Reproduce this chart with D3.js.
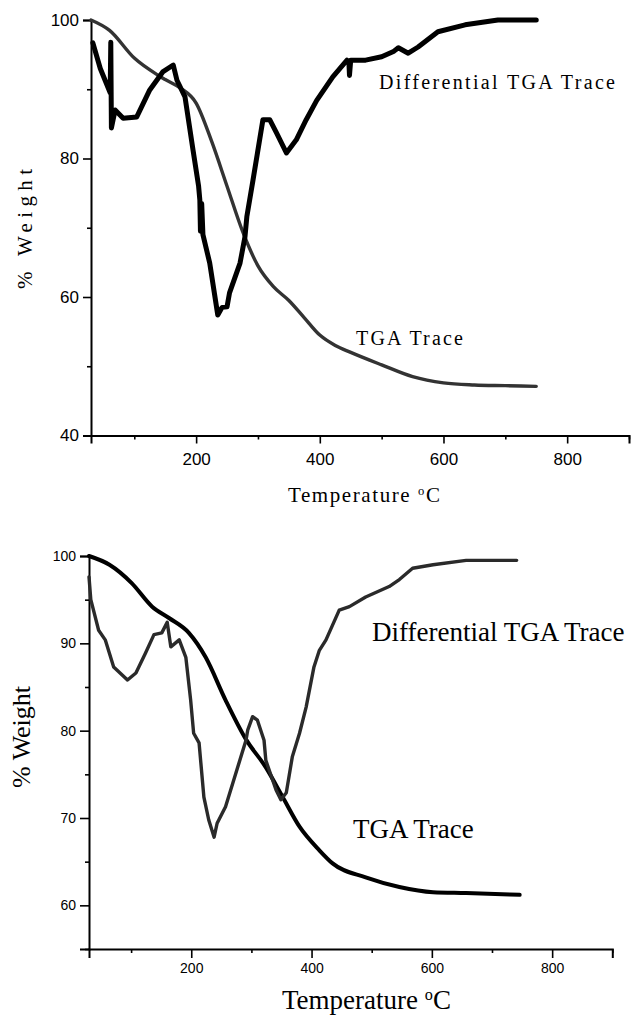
<!DOCTYPE html>
<html>
<head>
<meta charset="utf-8">
<script src="https://cdn.jsdelivr.net/npm/d3@7"></script>
<style>
  html, body { margin: 0; padding: 0; background: #fff; }
  svg { display: block; }
</style>
</head>
<body>
<svg id="chart" width="636" height="1018"></svg>
<script>
// top panel, TGA trace (temperature °C, % weight)
const topTgaTemp = [30, 60, 100, 137, 150, 174, 200, 225, 250, 275, 300, 325, 350, 375, 400, 425, 450, 500, 550, 600, 650, 700, 750];
const topTgaWeight = [100, 98.5, 94.5, 92.1, 91.4, 90.2, 88, 82.5, 76, 69.5, 64.5, 61.5, 59.5, 57, 54.5, 53, 52, 50.2, 48.5, 47.6, 47.3, 47.2, 47.1];

// top panel, differential TGA trace
const topDtgTemp = [33, 45, 61, 62, 63, 69, 82, 104, 125, 146, 163, 169, 182, 195, 204, 206, 207, 209, 211, 222, 235, 242, 250, 254, 271, 279, 282, 292, 308, 319, 330, 346, 362, 378, 395, 421, 444, 447, 448, 450, 474, 500, 520, 527, 543, 559, 591, 635, 688, 750];
const topDtgWeight = [96.7, 93, 89.5, 96.8, 84.4, 87, 85.8, 86, 89.9, 92.5, 93.5, 91.3, 88.9, 81.2, 76, 74, 69.5, 73.5, 69, 64.9, 57.4, 58.5, 58.6, 60.6, 64.9, 68.7, 71.6, 76.9, 85.6, 85.6, 83.7, 80.8, 82.7, 85.6, 88.4, 91.8, 94.2, 94, 92, 94.2, 94.2, 94.7, 95.5, 96, 95.2, 96.1, 98.3, 99.3, 100, 100];

// bottom panel, TGA trace
const botTgaTemp = [30, 64, 101, 135, 163, 196, 224, 257, 291, 324, 352, 380, 413, 435, 490, 546, 602, 657, 746];
const botTgaWeight = [100, 99, 96.9, 94.2, 92.9, 91.2, 88.4, 83.5, 79, 75.8, 72.4, 69, 66.3, 64.8, 63.2, 62.1, 61.5, 61.4, 61.2];

// bottom panel, differential TGA trace
const botDtgTemp = [30, 33, 46, 57, 71, 94, 108, 124, 138, 151, 160, 166, 180, 191, 199, 204, 213, 221, 229, 238, 243, 257, 274, 291, 294, 302, 310, 321, 324, 341, 349, 358, 368, 380, 391, 404, 413, 424, 446, 463, 490, 529, 546, 568, 602, 657, 702, 741];
const botDtgWeight = [97.6, 95, 91.5, 90.4, 87.3, 85.8, 86.6, 88.9, 91, 91.2, 92.4, 89.6, 90.4, 88.4, 83.5, 79.7, 78.6, 72.4, 69.8, 67.8, 69.4, 71.3, 75.1, 78.9, 80.1, 81.6, 81.2, 78.9, 76.6, 73.2, 72.1, 72.9, 77, 79.7, 82.7, 87.3, 89.2, 90.4, 93.8, 94.2, 95.3, 96.5, 97.3, 98.6, 99, 99.5, 99.5, 99.5];

// ticks
const xMajorTicks = [200, 400, 600, 800];
const xMinorTicks = [100, 300, 500, 700, 900];
const topYMajor = [40, 60, 80, 100];
const topYMinor = [50, 70, 90];
const botYMajor = [60, 70, 80, 90, 100];
const botYMinor = [55, 65, 75, 85, 95];

const svg = d3.select("#chart");
const serif = "'Liberation Serif', 'Times New Roman', serif";
const sans = "'Liberation Sans', Arial, sans-serif";

const zip = (xs, ys) => xs.map((x, i) => ({ t: x, w: ys[i] }));

function drawPanel(cfg) {
    const x = d3.scaleLinear().domain([30, 900]).range(cfg.xRange);
    const y = d3.scaleLinear().domain(cfg.yDomain).range(cfg.yRange);
    const g = svg.append("g");

    // y axis: major then minor
    g.append("g")
        .attr("transform", `translate(${cfg.xRange[0]},0)`)
        .call(d3.axisLeft(y).tickValues(cfg.yMajor).tickSize(cfg.tickLen).tickPadding(4).tickFormat(d3.format("d")));
    g.append("g")
        .attr("transform", `translate(${cfg.xRange[0]},0)`)
        .call(d3.axisLeft(y).tickValues(cfg.yMinor).tickSize(4).tickFormat(""))
        .call(a => a.select(".domain").remove());

    g.append("g")
        .attr("transform", `translate(0,${cfg.yRange[0]})`)
        .call(d3.axisBottom(x).tickValues(xMajorTicks).tickSize(cfg.tickLen).tickPadding(cfg.xPad).tickFormat(d3.format("d")));
    g.append("g")
        .attr("transform", `translate(0,${cfg.yRange[0]})`)
        .call(d3.axisBottom(x).tickValues(xMinorTicks).tickSize(4).tickFormat(""))
        .call(a => a.select(".domain").remove());

    g.selectAll(".domain").attr("stroke", "#000").attr("stroke-width", 2);
    g.selectAll(".tick line").attr("stroke", "#000").attr("stroke-width", 1.6);
    g.selectAll(".tick text")
        .attr("fill", "#000")
        .style("font-family", sans)
        .style("font-size", cfg.tickFont + "px");

    const tgaLine = d3.line().x(d => x(d.t)).y(d => y(d.w)).curve(d3.curveMonotoneX);
    const dtgLine = d3.line().x(d => x(d.t)).y(d => y(d.w));

    g.append("path")
        .datum(zip(cfg.tgaT, cfg.tgaW))
        .attr("fill", "none")
        .attr("stroke", cfg.tgaColor)
        .attr("stroke-width", cfg.tgaWidth)
        .attr("stroke-linejoin", "round")
        .attr("stroke-linecap", "round")
        .attr("d", tgaLine);

    g.append("path")
        .datum(zip(cfg.dtgT, cfg.dtgW))
        .attr("fill", "none")
        .attr("stroke", cfg.dtgColor)
        .attr("stroke-width", cfg.dtgWidth)
        .attr("stroke-linejoin", "round")
        .attr("stroke-linecap", "round")
        .attr("d", dtgLine);

    // trace labels
    cfg.labels.forEach(lbl => {
        const t = g.append("text")
            .attr("x", lbl.x)
            .attr("y", lbl.y)
            .style("font-family", serif)
            .style("font-size", lbl.size + "px")
            .attr("fill", "#000")
            .text(lbl.text);
        if (lbl.len) t.attr("textLength", lbl.len).attr("lengthAdjust", "spacing");
    });

    // x title
    const xt = g.append("text")
        .attr("x", cfg.xTitle.x)
        .attr("y", cfg.xTitle.y)
        .style("font-family", serif)
        .style("font-size", cfg.xTitle.size + "px")
        .attr("fill", "#000");
    xt.append("tspan").text("Temperature ");
    xt.append("tspan").attr("dy", -cfg.xTitle.size * 0.35).style("font-size", (cfg.xTitle.size * 0.6) + "px").text("o");
    xt.append("tspan").attr("dy", cfg.xTitle.size * 0.35).text("C");
    if (cfg.xTitle.len) xt.attr("textLength", cfg.xTitle.len).attr("lengthAdjust", "spacing");

    // y title
    const yt = g.append("text")
        .attr("transform", `translate(${cfg.yTitle.x},${cfg.yTitle.y}) rotate(-90)`)
        .attr("text-anchor", "middle")
        .style("font-family", serif)
        .style("font-size", cfg.yTitle.size + "px")
        .attr("fill", "#000")
        .text("% Weight");
    if (cfg.yTitle.len) yt.attr("textLength", cfg.yTitle.len).attr("lengthAdjust", "spacing");
}

drawPanel({
    xRange: [91, 629], yDomain: [40, 100], yRange: [435.5, 20],
    yMajor: topYMajor, yMinor: topYMinor,
    tickLen: 8, xPad: 9, tickFont: 17,
    tgaT: topTgaTemp, tgaW: topTgaWeight, tgaColor: "#333", tgaWidth: 3.4,
    dtgT: topDtgTemp, dtgW: topDtgWeight, dtgColor: "#000", dtgWidth: 5,
    labels: [
        { text: "Differential TGA Trace", x: 379, y: 89, size: 20, len: 236 },
        { text: "TGA Trace", x: 356, y: 345, size: 20, len: 107 }
    ],
    xTitle: { x: 288, y: 502, size: 21, len: 152 },
    yTitle: { x: 32, y: 229, size: 21, len: 120 }
});

drawPanel({
    xRange: [89, 612.3], yDomain: [55, 100], yRange: [949, 556],
    yMajor: botYMajor, yMinor: botYMinor,
    tickLen: 9, xPad: 5, tickFont: 14,
    tgaT: botTgaTemp, tgaW: botTgaWeight, tgaColor: "#000", tgaWidth: 4,
    dtgT: botDtgTemp, dtgW: botDtgWeight, dtgColor: "#2a2a2a", dtgWidth: 3.4,
    labels: [
        { text: "Differential TGA Trace", x: 372, y: 641, size: 27 },
        { text: "TGA Trace", x: 353, y: 838, size: 27 }
    ],
    xTitle: { x: 282, y: 1009, size: 27 },
    yTitle: { x: 30, y: 737, size: 26 }
});
</script>
</body>
</html>
